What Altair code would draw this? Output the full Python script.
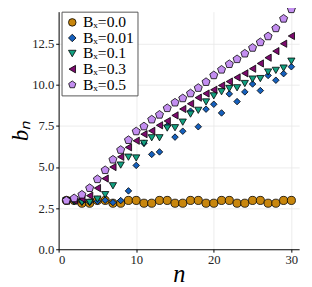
import altair as alt
import pandas as pd

n = list(range(1, 31))

labels = ["Bₓ=0.0", "Bₓ=0.01", "Bₓ=0.1", "Bₓ=0.3", "Bₓ=0.5"]

b_00 = [2.97, 2.97, 2.80, 2.80, 2.97, 2.97, 2.80, 2.80, 2.97, 2.97,
        2.80, 2.80, 2.97, 2.97, 2.80, 2.80, 2.97, 2.97, 2.80, 2.80,
        2.97, 2.97, 2.80, 2.80, 2.97, 2.97, 2.80, 2.80, 2.97, 2.97]
b_001 = [2.95, 2.92, 2.88, 2.86, 2.92, 2.98, 2.84, 2.96, 3.55, 5.10,
         6.45, 5.77, 5.92, 7.50, 6.82, 7.18, 8.40, 7.45, 8.52, 8.82,
         8.29, 9.45, 8.98, 9.57, 10.05, 9.65, 10.57, 10.28, 10.68, 11.10]
b_01 = [2.95, 2.90, 2.85, 2.85, 3.05, 3.32, 3.86, 5.12, 5.60, 5.55,
        6.44, 6.78, 6.78, 7.37, 7.39, 7.73, 8.22, 8.45, 8.96, 9.33,
        9.58, 9.78, 9.82, 10.08, 10.35, 10.38, 10.78, 10.88, 11.02, 11.44]
b_03 = [2.95, 2.95, 3.07, 3.26, 3.72, 4.30, 5.00, 5.62, 6.20, 6.60,
        7.00, 7.20, 7.54, 7.80, 8.14, 8.53, 8.85, 9.22, 9.47, 9.70,
        9.96, 10.20, 10.45, 10.70, 10.98, 11.30, 11.65, 12.05, 12.50, 12.97]
b_05 = [2.96, 3.10, 3.32, 3.72, 4.26, 4.81, 5.45, 6.04, 6.64, 7.17,
        7.47, 7.89, 8.18, 8.58, 8.92, 9.18, 9.48, 9.81, 10.17, 10.58,
        10.92, 11.26, 11.56, 11.90, 12.25, 12.59, 12.95, 13.44, 14.02, 14.60]

series = [b_00, b_001, b_01, b_03, b_05]
colors = ["#C8860D", "#1560BD", "#12A080", "#7D0A6E", "#C38EF0"]
pentagon = "M0,-1L0.951,-0.309L0.588,0.809L-0.588,0.809L-0.951,-0.309Z"
shapes = ["circle", "diamond", "triangle-down", "triangle-left", pentagon]
sizes = [70, 45, 55, 55, 75]

rows = []
for i, (lab, vals) in enumerate(zip(labels, series)):
    for k, v in zip(n, vals):
        rows.append({"n": k, "b": v, "series": lab, "order": i, "sz": sizes[i]})
df = pd.DataFrame(rows)

FONT = "Liberation Serif"

chart = alt.Chart(df).mark_point(filled=True, stroke="black", strokeWidth=0.8, opacity=1, clip=False).encode(
    x=alt.X("n:Q", scale=alt.Scale(domain=[0, 31], nice=False),
            axis=alt.Axis(values=[0, 10, 20, 30], format="d", title="n",
                          titleFontStyle="italic", titleFontSize=25, titleFont=FONT,
                          titleFontWeight="normal", titlePadding=-5)),
    y=alt.Y("b:Q", scale=alt.Scale(domain=[0, 14.45], nice=False, zero=False),
            axis=alt.Axis(values=[0, 2.5, 5, 7.5, 10, 12.5], format=".1f", title="bₙ",
                          titleFontStyle="italic", titleFontSize=23, titleFont=FONT,
                          titleFontWeight="normal", titlePadding=-1)),
    color=alt.Color("series:N", scale=alt.Scale(domain=labels, range=colors),
                    legend=alt.Legend(title=None, orient="none", legendX=3, legendY=0,
                                      fillColor="white", strokeColor="#555555",
                                      padding=3, labelFont=FONT, labelFontSize=16,
                                      labelColor="black", rowPadding=0,
                                      symbolStrokeColor="black", symbolStrokeWidth=0.8,
                                      symbolSize=60, labelOffset=3, cornerRadius=0)),
    shape=alt.Shape("series:N", scale=alt.Scale(domain=labels, range=shapes)),
    size=alt.Size("sz:Q", scale=None, legend=None),
    order=alt.Order("order:Q"),
).properties(
    width=247, height=244,
    padding={"left": 52, "top": 0, "right": 5, "bottom": 35},
    autosize=alt.AutoSizeParams(type="none"),
).configure_view(stroke=None).configure_axis(
    labelFont=FONT, labelFontSize=13, labelColor="#222222", titleColor="black",
    domainColor="black", domainWidth=1, gridColor="#e6e6e6", gridWidth=0.8,
    tickColor="black", tickSize=3, labelPadding=2,
)

chart.save("out.html", embed_options={"renderer": "svg", "actions": False})
